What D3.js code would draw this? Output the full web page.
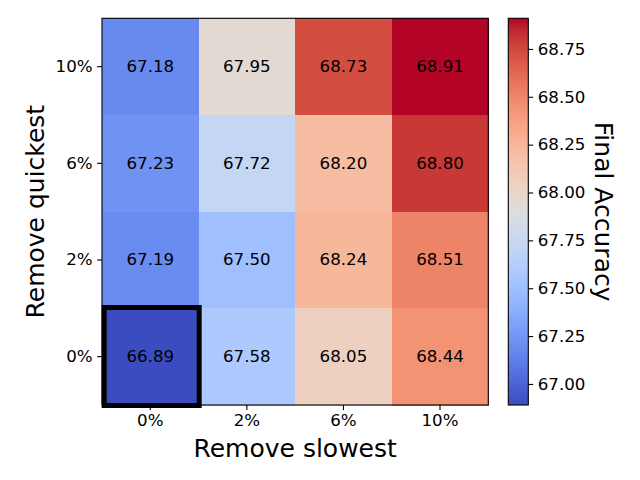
<!DOCTYPE html>
<html>
<head>
<meta charset="utf-8">
<script src="https://cdn.jsdelivr.net/npm/d3@7"></script>
<style>
html,body{margin:0;padding:0;background:#fff;}
svg{display:block;font-family:"DejaVu Sans",sans-serif;}
</style>
</head>
<body>
<svg id="chart" width="640" height="480"></svg>
<script>
const colLabels = ["0%", "2%", "6%", "10%"];
const rowLabels = ["10%", "6%", "2%", "0%"];
const row10 = [67.18, 67.95, 68.73, 68.91];
const row6  = [67.23, 67.72, 68.20, 68.80];
const row2  = [67.19, 67.50, 68.24, 68.51];
const row0  = [66.89, 67.58, 68.05, 68.44];
const rowsData = [row10, row6, row2, row0];
const cbTicks = [67.00, 67.25, 67.50, 67.75, 68.00, 68.25, 68.50, 68.75];
const highlight = {row: "0%", col: "0%"};

// coolwarm colormap (Moreland) samples
const coolwarm = [
[59,76,192],[68,90,204],[77,104,215],[87,117,225],[98,130,234],[108,142,241],[119,154,247],[130,165,251],
[141,176,254],[152,185,255],[163,194,255],[174,201,253],[184,208,249],[194,213,244],[204,217,238],[213,219,230],
[221,221,221],[229,216,209],[236,211,197],[241,204,185],[245,196,173],[247,187,160],[247,177,148],[247,166,135],
[244,154,123],[241,141,111],[236,127,99],[229,112,88],[222,96,77],[213,80,66],[203,62,56],[192,40,47],[180,4,38]];

const allVals = rowsData.flat();
const vmin = d3.min(allVals), vmax = d3.max(allVals);
const n = coolwarm.length;
const color = d3.scaleLinear()
  .domain(d3.range(n).map(i => vmin + (vmax - vmin) * i / (n - 1)))
  .range(coolwarm.map(c => d3.rgb(c[0], c[1], c[2]).toString()))
  .interpolate(d3.interpolateRgb)
  .clamp(true);

const svg = d3.select("#chart");
const L = 102, R = 488.3, T = 18.3, B = 405;
const x = d3.scaleBand().domain(colLabels).range([L, R]);
const y = d3.scaleBand().domain(rowLabels).range([T, B]);

const cells = [];
rowsData.forEach((row, i) => row.forEach((v, j) => cells.push({r: rowLabels[i], c: colLabels[j], v})));

svg.append("g").selectAll("rect").data(cells).join("rect")
  .attr("x", d => x(d.c)).attr("y", d => y(d.r))
  .attr("width", x.bandwidth() + 0.5).attr("height", y.bandwidth() + 0.5)
  .attr("fill", d => color(d.v))
  .attr("shape-rendering", "crispEdges");

svg.append("g").selectAll("text").data(cells).join("text")
  .attr("x", d => x(d.c) + x.bandwidth() / 2)
  .attr("y", d => y(d.r) + y.bandwidth() / 2)
  .attr("text-anchor", "middle").attr("dominant-baseline", "central")
  .attr("font-size", 16.67).attr("fill", "#000")
  .text(d => d.v.toFixed(2));

// frame
svg.append("rect").attr("x", L).attr("y", T).attr("width", R - L).attr("height", B - T)
  .attr("fill", "none").attr("stroke", "#000").attr("stroke-width", 1.1);

// highlight box
svg.append("rect")
  .attr("x", x(highlight.col) + 2.2).attr("y", y(highlight.row) - 0.8)
  .attr("width", x.bandwidth() - 2.2 + 0.6).attr("height", y.bandwidth() + 1.3)
  .attr("fill", "none").attr("stroke", "#000").attr("stroke-width", 5);

// axes
const xAxis = svg.append("g").attr("transform", `translate(0,${B})`)
  .call(d3.axisBottom(x).tickSize(4.9).tickPadding(4));
const yAxis = svg.append("g").attr("transform", `translate(${L},0)`)
  .call(d3.axisLeft(y).tickSize(4.9).tickPadding(4.5));
[xAxis, yAxis].forEach(g => {
  g.select(".domain").remove();
  g.selectAll("line").attr("stroke", "#000").attr("stroke-width", 1.1);
  g.selectAll("text").attr("font-size", 16.67).attr("font-family", "DejaVu Sans").attr("fill", "#000");
});

svg.append("text").attr("x", (L + R) / 2).attr("y", 457)
  .attr("text-anchor", "middle").attr("font-size", 25).text("Remove slowest");
svg.append("text").attr("transform", `translate(35,${(T + B) / 2}) rotate(-90)`)
  .attr("text-anchor", "middle").attr("dominant-baseline", "central")
  .attr("font-size", 25).text("Remove quickest");

// colorbar
const cbL = 508.3, cbW = 20, cbT = T, cbB = B;
const cy = d3.scaleLinear().domain([vmin, vmax]).range([cbB, cbT]);
const defs = svg.append("defs");
const grad = defs.append("linearGradient").attr("id", "cbgrad")
  .attr("x1", 0).attr("y1", 1).attr("x2", 0).attr("y2", 0);
grad.selectAll("stop").data(coolwarm).join("stop")
  .attr("offset", (d, i) => i / (n - 1))
  .attr("stop-color", d => d3.rgb(d[0], d[1], d[2]).toString());
svg.append("rect").attr("x", cbL).attr("y", cbT).attr("width", cbW).attr("height", cbB - cbT)
  .attr("fill", "url(#cbgrad)").attr("stroke", "#000").attr("stroke-width", 1.1);
const cbAxis = svg.append("g").attr("transform", `translate(${cbL + cbW},0)`)
  .call(d3.axisRight(cy).tickValues(cbTicks).tickFormat(d3.format(".2f")).tickSize(4.9).tickPadding(4.5));
cbAxis.select(".domain").remove();
cbAxis.selectAll("line").attr("stroke", "#000").attr("stroke-width", 1.1);
cbAxis.selectAll("text").attr("font-size", 16.67).attr("font-family", "DejaVu Sans").attr("fill", "#000");

svg.append("text").attr("transform", `translate(603,${(cbT + cbB) / 2}) rotate(90)`)
  .attr("text-anchor", "middle").attr("dominant-baseline", "central")
  .attr("font-size", 25).text("Final Accuracy");
</script>
</body>
</html>
